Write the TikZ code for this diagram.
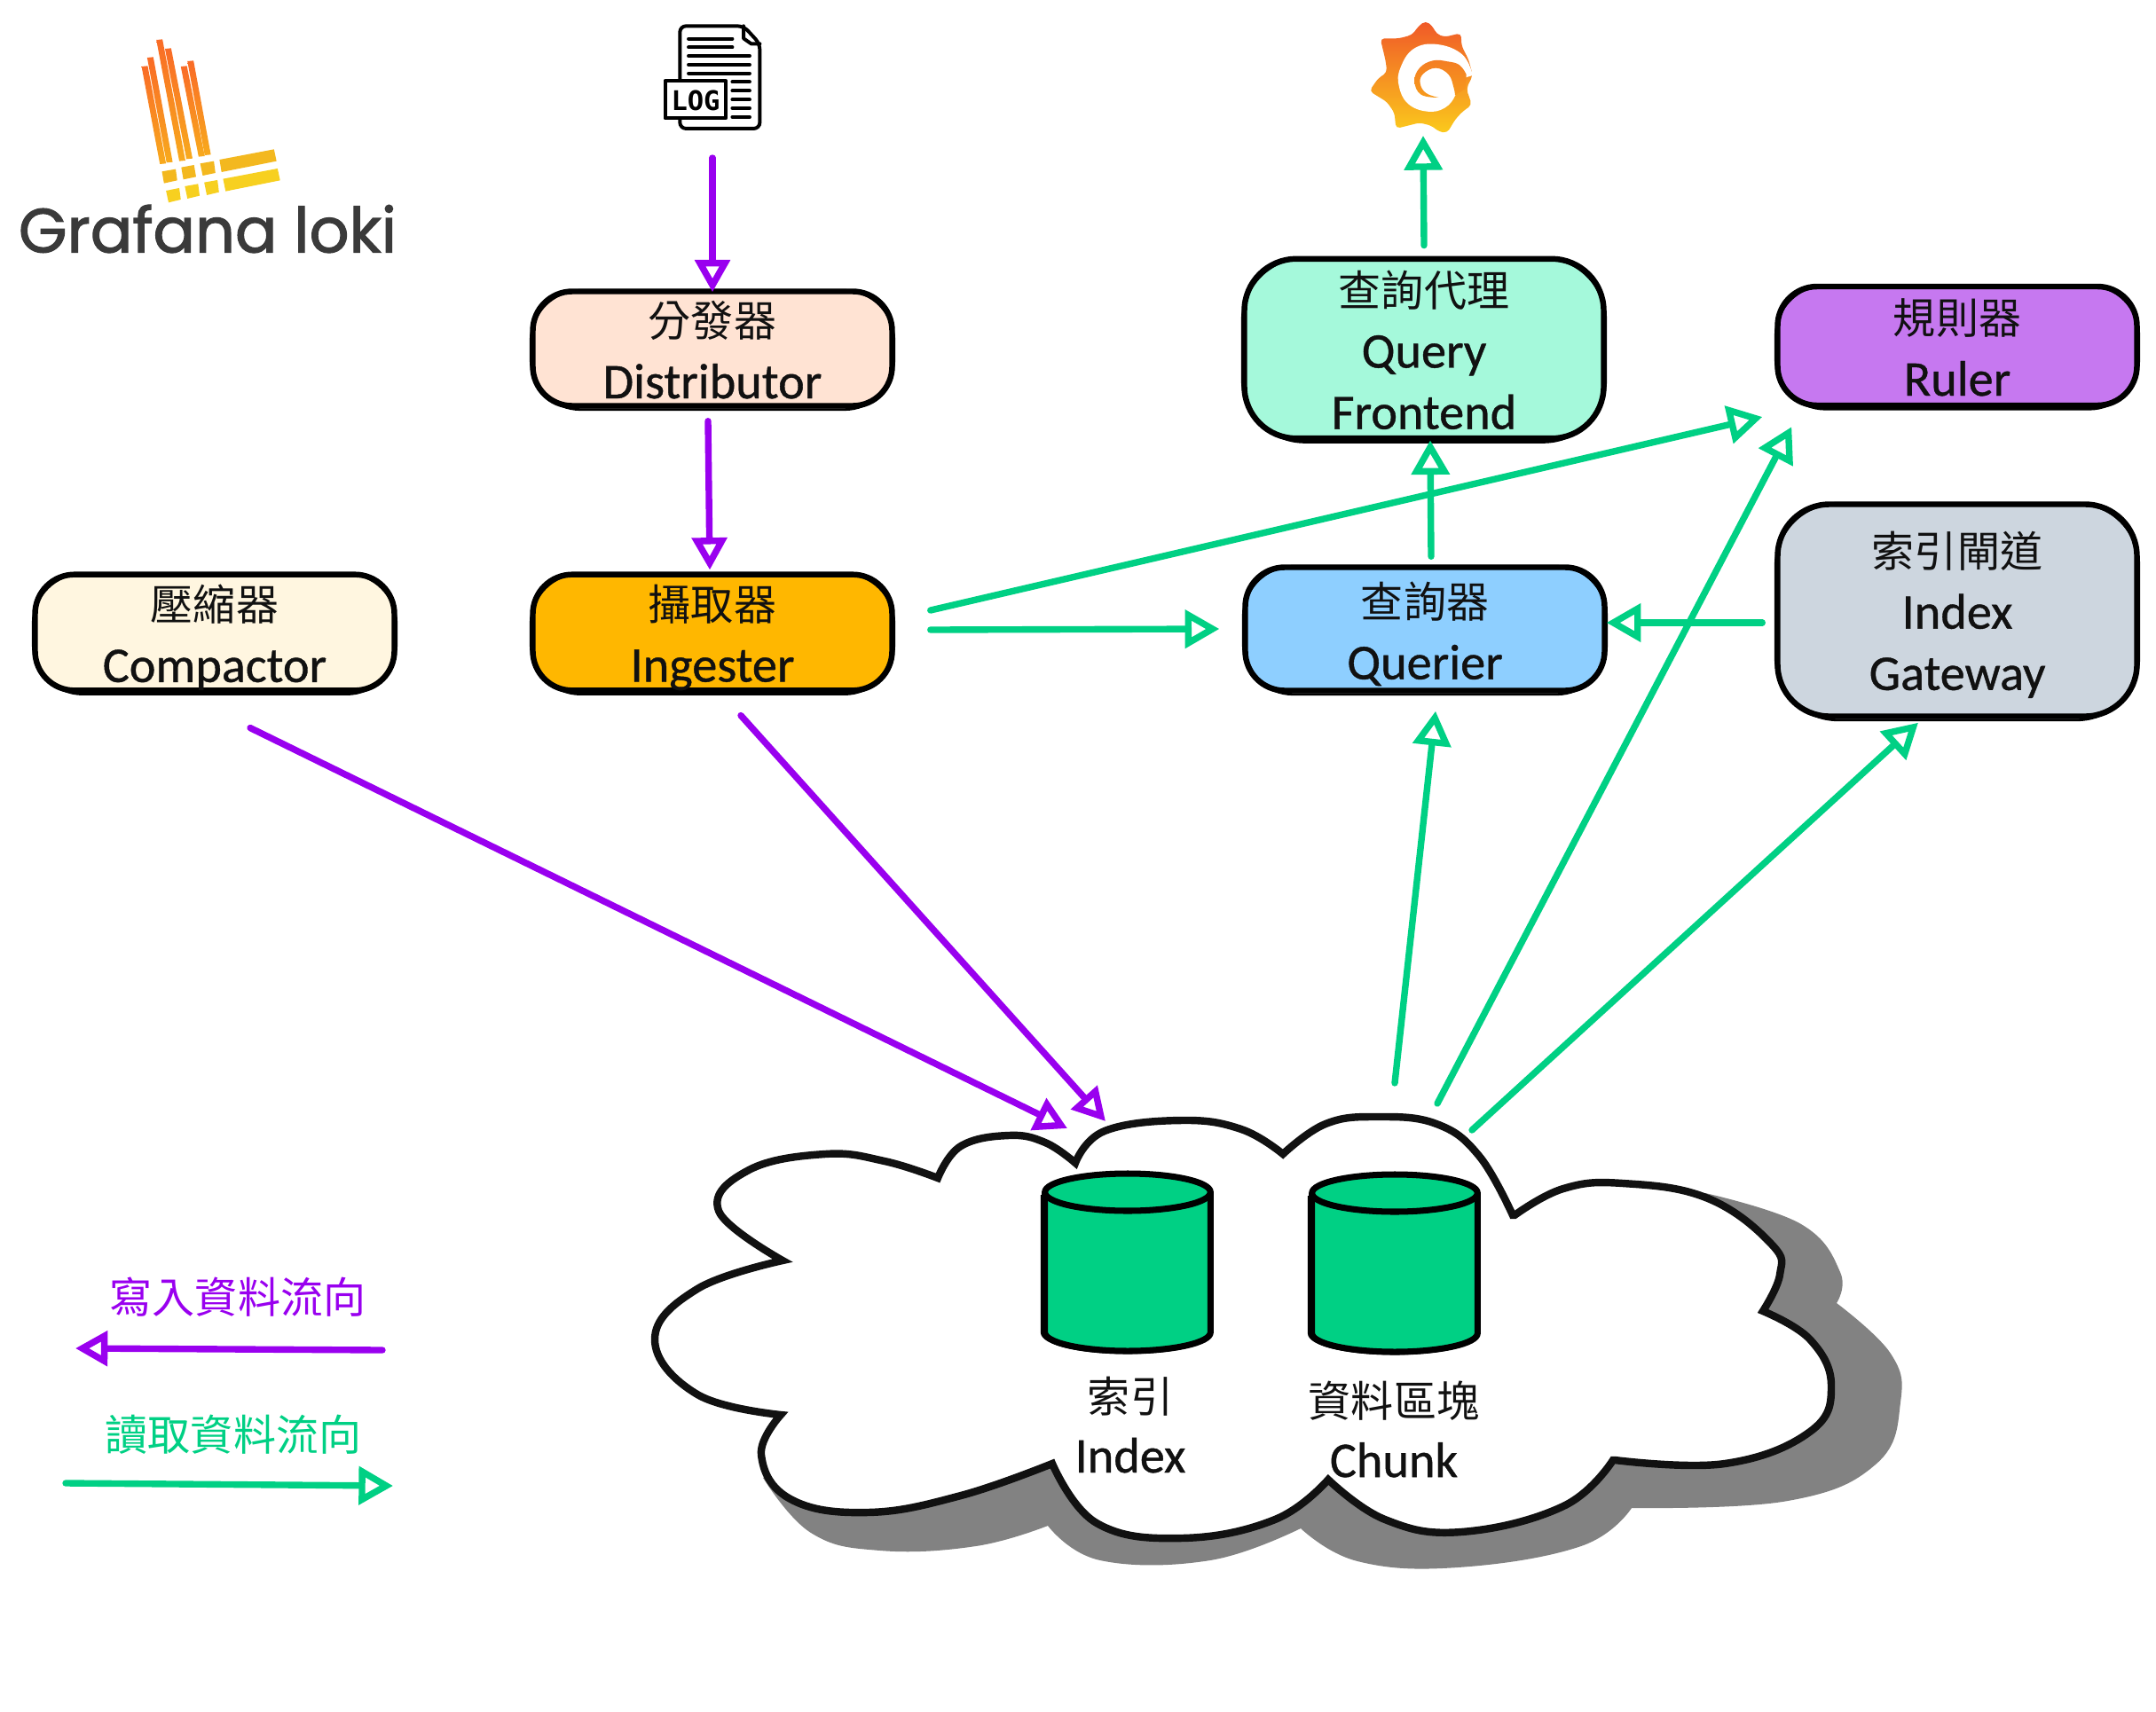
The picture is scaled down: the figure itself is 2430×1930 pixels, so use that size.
\documentclass[tikz,border=0pt]{standalone}
\usepackage{fontspec}
\usetikzlibrary{arrows.meta}
\setmainfont{Carlito}[FakeBold=0.7]
\newfontfamily\cjk{Noto Sans CJK TC}
\newfontfamily\logofont{Poppins}[FakeBold=1.6]
\newfontfamily\logfont{DejaVu Sans Mono}
\newcommand{\zh}[2][0pt]{{\cjk\fontsize{41}{59}\selectfont\rule{0pt}{#1}#2}}
\definecolor{gr}{HTML}{00D084}
\definecolor{pu}{HTML}{9900EF}
\definecolor{cdist}{HTML}{FFE3D3}
\definecolor{cing}{HTML}{FFB700}
\definecolor{ccomp}{HTML}{FFF6E0}
\definecolor{cqf}{HTML}{A5F9DB}
\definecolor{crul}{HTML}{C678F0}
\definecolor{cqr}{HTML}{8ECFFF}
\definecolor{cgw}{HTML}{CDD6DF}
\definecolor{ink}{HTML}{111111}
\tikzset{
  boxb/.style={draw=black,line width=5.5pt,rounded corners=38pt,align=center,inner sep=0pt,text=ink,
    font=\fontsize{48}{59}\selectfont},
  sk/.style={draw=black,line width=2.4pt,rounded corners=48pt},
  txt/.style={align=center,inner sep=0pt,text=ink,font=\fontsize{48}{58}\selectfont},
  wr/.style={draw=pu,line width=6.3pt,line cap=round,-{Triangle[open,length=31pt,width=33pt]}},
  rd/.style={draw=gr,line width=6.3pt,line cap=round,-{Triangle[open,length=33pt,width=36pt]}},
  can/.style={minimum width=5.6cm,minimum height=6cm,inner sep=0pt,outer sep=0pt},
  canbody/.style={draw=black,line width=6pt,fill=gr,line join=round},
  canline/.style={draw=black,line width=6pt},
  canextra/.style={draw=black,line width=3pt},
}
\newcommand{\sketchbox}[2][]{\draw[sk,#1] ([shift={(1,1)}]#2.south west) rectangle ([shift={(-1,2)}]#2.north east);}
\newcommand{\cylinderdraw}[1]{%
  \draw[canbody] ([shift={(0,21)}]#1.north west) -- ([shift={(0,-21)}]#1.south west)
     arc[start angle=180,end angle=360,x radius=2.8cm,y radius=.63cm]
     -- ([shift={(0,21)}]#1.north east)
     arc[start angle=0,end angle=180,x radius=2.8cm,y radius=.63cm] -- cycle;
  \draw[canline] ([shift={(0,21)}]#1.north west) arc[start angle=180,end angle=360,x radius=2.8cm,y radius=.63cm];
  \draw[canextra] ([shift={(-3,24)}]#1.north west) -- ([shift={(-3,-21)}]#1.south west)
     arc[start angle=180,end angle=360,x radius=2.86cm,y radius=.68cm];
}
\begin{document}
\begin{tikzpicture}[x=0.03cm,y=-0.03cm]
\useasboundingbox (0,0) rectangle (2430,1930);
% shadow
\fill[color={rgb,255:red,130;green,130;blue,130}] plot[smooth,tension=.7] coordinates {(1922,1345)(2030,1380)(2074,1434)(2070,1469)}
  --plot[smooth,tension=.7] coordinates {(2070,1469)(2131,1526)(2142,1581)(2115,1650)(2015,1692)(1839,1700)}
  --plot[smooth,tension=.7] coordinates {(1839,1700)(1782,1743)(1643,1767)(1530,1760)(1466,1723)}
  --plot[smooth,tension=.7] coordinates {(1466,1723)(1364,1759)(1240,1759)(1181,1720)}
  --plot[smooth,tension=.7] coordinates {(1181,1720)(1100,1743)(992,1748)(914,1728)(860,1666)} -- cycle;
% cloud
\draw[draw=ink,line width=7.2pt,fill=white,miter limit=4] plot[smooth,tension=.7] coordinates {(1057,1328)(1083,1292)(1137,1280)(1178,1288)(1212,1311)}
  --plot[smooth,tension=.7] coordinates {(1212,1311)(1245,1275)(1332,1263)(1399,1273)(1446,1301)}
  --plot[smooth,tension=.7] coordinates {(1446,1301)(1494,1267)(1552,1259)(1619,1267)(1667,1303)(1705,1370)}
  --plot[smooth,tension=.7] coordinates {(1707,1370)(1762,1340)(1829,1334)(1925,1351)(1997,1403)(2006,1437)(1987,1478)}
  --plot[smooth,tension=.7] coordinates {(1987,1478)(2040,1510)(2064,1562)(2040,1614)(1944,1650)(1820,1646)}
  --plot[smooth,tension=.7] coordinates {(1818,1646)(1762,1698)(1647,1727)(1561,1713)(1497,1668)}
  --plot[smooth,tension=.7] coordinates {(1497,1668)(1437,1713)(1332,1734)(1236,1717)(1186,1650)}
  --plot[smooth,tension=.7] coordinates {(1186,1650)(1083,1686)(978,1705)(891,1690)(858,1640)(880,1595)}
  --plot[smooth,tension=.7] coordinates {(880,1595)(786,1572)(738,1510)(786,1453)(882,1421)}
  --plot[smooth,tension=.7] coordinates {(882,1421)(810,1365)(844,1319)(930,1301)(997,1309)(1057,1328)} -- cycle;
% cylinders
\node[can] (idx) at (1271,1423) {};
\node[can] (chk) at (1572,1424) {};
\cylinderdraw{idx}\cylinderdraw{chk}
\node[txt] (idxt) at (1274,1606) {\zh{索引}\\Index};
\node[txt] (chkt) at (1571,1611) {\zh{資料區塊}\\Chunk};
% boxes
\node[boxb,fill=cdist,minimum width=12.15cm,minimum height=3.87cm] (dist) at (803,393) {\zh[37pt]{分發器}\\Distributor};
\node[boxb,fill=cing,minimum width=12.15cm,minimum height=3.92cm] (ing) at (803,713) {\zh[44pt]{攝取器}\\Ingester};
\node[boxb,fill=ccomp,minimum width=12.15cm,minimum height=3.92cm] (comp) at (242,713) {\zh[44pt]{壓縮器}\\Compactor};
\node[boxb,fill=cqf,minimum width=12.15cm,minimum height=6.07cm,rounded corners=50pt] (qf) at (1605,393) {\zh[37pt]{查詢代理}\\Query\\Frontend};
\node[boxb,fill=crul,minimum width=12.15cm,minimum height=4.02cm] (rul) at (2206,390) {\zh[37pt]{規則器}\\Ruler};
\node[boxb,fill=cqr,minimum width=12.15cm,minimum height=4.17cm] (qr) at (1606,709) {\zh[44pt]{查詢器}\\Querier};
\node[boxb,fill=cgw,minimum width=12.15cm,minimum height=7.17cm,rounded corners=50pt] (gw) at (2206,688) {\zh[43pt]{索引閘道}\\Index\\Gateway};
\sketchbox{dist}\sketchbox{ing}\sketchbox{comp}\sketchbox{rul}\sketchbox{qr}
\sketchbox[rounded corners=60pt]{qf}\sketchbox[rounded corners=60pt]{gw}
% legend
\node[txt,text=pu] (lw) at (268,1462) {\zh{寫入資料流向}};
\node[txt,text=gr] (lr) at (263,1617) {\zh{讀取資料流向}};
% Logo
\begin{scope}[xscale=.574,yscale=.3333]
  \foreach \a/\b/\c/\d in {284/225/320/555,295/195/333/550,313/135/358/545,330/165/372/538,361/225/396/530,374/207/408/525}{
    \shade[top color={rgb,255:red,249;green,107;blue,39},bottom color={rgb,255:red,248;green,170;blue,29}]
      (\a-6,\b) -- (\a+6,\b-2) -- (\c+6,\d-2) -- (\c-6,\d) -- cycle;}
  \fill[color={rgb,255:red,243;green,184;blue,31}] (318,580)--(345,572)--(348,610)--(322,620)--cycle
   (356,566)--(381,558)--(385,598)--(360,607)--cycle (393,553)--(420,545)--(423,585)--(398,594)--cycle
   (431,540)--(538,505)--(543,545)--(435,582)--cycle;
  \fill[color={rgb,255:red,247;green,208;blue,32}] (326,645)--(352,636)--(355,675)--(331,685)--cycle
   (363,630)--(389,622)--(392,662)--(368,672)--cycle (401,617)--(427,609)--(430,650)--(406,660)--cycle
   (438,605)--(545,570)--(550,610)--(443,647)--cycle;
\end{scope}
\node[inner sep=0pt,text={rgb,255:red,58;green,58;blue,58},font=\logofont\fontsize{60}{60}\selectfont] (logo) at (234,258) {Grafana loki};
% Log icon
\begin{scope}[xscale=.574,yscale=.3333,line width=3.4pt,line cap=round,line join=round]
  \draw[rounded corners=6pt] (1460,88) -- (1335,88) -- (1335,435) -- (1492,435) -- (1492,148) -- cycle;
  \draw (1460,88) -- (1460,130) -- (1475,148) -- (1492,148);
  \foreach \y/\xa/\xb in {131/1352/1438,160/1352/1438,189/1352/1472,219/1352/1472,248/1352/1472,277/1438/1472,307/1438/1472,337/1438/1472,366/1438/1472,396/1438/1472}
    \draw (\xa,\y) -- (\xb,\y);
  \draw[fill=white] (1306,273) rectangle (1425,400);
\end{scope}
\node[inner sep=0pt,font=\logfont\bfseries\fontsize{26}{26}\selectfont] (logt) at (784,113) {LOG};
\coordinate (logc) at (803,160);
% Grafana icon
\begin{scope}[shift={(1520,10)},xscale=.3333,yscale=.3333]
  \shade[top color={rgb,255:red,240;green,88;blue,40},bottom color={rgb,255:red,251;green,202;blue,28},rounded corners=4pt]
    (260,40)--(285,60)--(297,85)--(325,95)--(380,82)--(382,125)--(405,170)--(420,225)--(398,270)--(417,325)--(388,345)--(362,372)--(333,420)--(305,415)--(280,395)--(240,385)--(160,405)--(155,352)--(130,315)--(70,278)--(100,235)--(130,215)--(125,175)--(107,100)--(170,100)--(215,88)--(235,60)--cycle;
  \fill[white] plot[smooth,tension=.7] coordinates {(420,225)(385,155)(300,120)(220,135)(175,200)(170,260)(200,320)(265,347)(325,335)(362,290)(368,240)} -- cycle;
  \shade[top color={rgb,255:red,244;green,125;blue,35},bottom color={rgb,255:red,247;green,155;blue,28}]
    plot[smooth,tension=.7] coordinates {(398,222)(375,190)(335,178)(285,175)(240,200)(223,245)(245,290)(305,300)}
     -- plot[smooth,tension=.7] coordinates {(305,300)(262,285)(242,252)(252,220)(295,200)(338,222)(355,265)(360,292)} -- (395,270) -- cycle;
\end{scope}
\coordinate (graf) at (1604,140);
% arrows
\draw[wr] (logc) ++(0,18) -- ([shift={(0,4)}]dist.north);
\draw[wr] ([shift={(-5,14)}]dist.south) -- ([shift={(-3,-2)}]ing.north);
\draw[rd] ([shift={(40,-25)}]ing.east) -- ([shift={(-14,80)}]rul.west);
\draw[rd] ([shift={(40,-3)}]ing.east) -- ([shift={(-26,0)}]qr.west);
\draw[rd] ([shift={(7,-9)}]qr.north) -- ([shift={(7,-1)}]qf.south);
\draw[rd] ([shift={(0,-12)}]qf.north) -- ([shift={(0,13)}]graf);
\draw[rd] ([shift={(-14,14)}]gw.west) -- ([shift={(-1,-7)}]qr.east);
\draw[rd] ([shift={(0,-103)}]chk.north) -- ([shift={(12,20)}]qr.south);
\draw[rd] ([shift={(48,-80)}]chk.north) -- ([shift={(19,21)}]rul.south west);
\draw[rd] ([shift={(87,-50)}]chk.north) -- ([shift={(-44,4)}]gw.south);
\draw[wr] ([shift={(40,39)}]comp.south) -- ([shift={(-68,-51)}]idx.north);
\draw[wr] ([shift={(32,25)}]ing.south) -- ([shift={(-25,-59)}]idx.north);
\coordinate (l1a) at (431,1522); \coordinate (l1b) at (85,1520);
\coordinate (l2a) at (74,1672); \coordinate (l2b) at (443,1675);
\draw[wr] (l1a) -- (l1b);
\draw[rd] (l2a) -- (l2b);
\end{tikzpicture}
\end{document}
